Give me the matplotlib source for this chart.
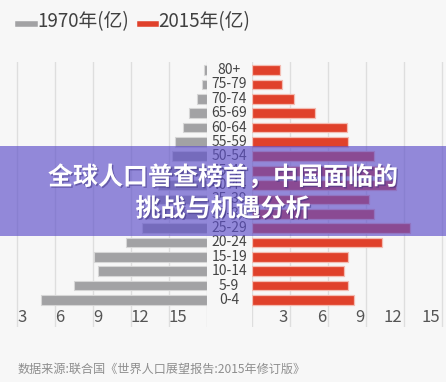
import matplotlib
matplotlib.use('Agg')
import matplotlib.pyplot as plt
from matplotlib.patches import Rectangle
from matplotlib.lines import Line2D
import matplotlib.patheffects as pe

plt.rcParams['font.family'] = ['Noto Sans CJK SC', 'DejaVu Sans']

# data (units of the axis)
ages = ['0-4', '5-9', '10-14', '15-19', '20-24', '25-29', '30-34', '35-39',
        '40-44', '45-49', '50-54', '55-59', '60-64', '65-69', '70-74', '75-79', '80+']
pop_1970 = [13.1, 10.5, 8.6, 8.9, 6.4, 5.1, 4.9, 4.4, 3.9, 3.3, 2.8, 2.5, 1.9, 1.4, 0.8, 0.4, 0.25]
pop_2015 = [8.05, 7.6, 7.25, 7.6, 10.3, 12.5, 9.6, 9.2, 11.4, 10.4, 9.6, 7.6, 7.5, 4.95, 3.3, 2.35, 2.2]
tick_vals = [3, 6, 9, 12, 15]
left_tick_labels = ['15', '12', '9', '6', '3']
right_tick_labels = ['3', '6', '9', '12', '15']
legend_labels = ['1970年(亿)', '2015年(亿)']
banner_lines = '全球人口普查榜首，中国面临的\n挑战与机遇分析'
source_text = '数据来源:联合国《世界人口展望报告:2015年修订版》'

GRAY = '#a2a2a4'
RED = '#e0412b'
BG = '#f7f7f7'
GRID = '#dedede'

W, H = 446, 382
fig = plt.figure(figsize=(W / 100, H / 100), dpi=100, facecolor=BG)


def px_rect(x0, x1, y0, y1):
    return [x0 / W, 1 - y1 / H, (x1 - x0) / W, (y1 - y0) / H]


ylim = (-1.88, 16.56)
ypos = list(range(len(ages)))

ax_l = fig.add_axes(px_rect(0, 207, 62, 327))
ax_r = fig.add_axes(px_rect(252, 446, 62, 327))

ax_l.set_xlim(207 / 12.667, 0)
ax_r.set_xlim(0, 194 / 12.667)

for ax in (ax_l, ax_r):
    ax.set_facecolor(BG)
    ax.set_ylim(*ylim)
    ax.set_xticks([0] + tick_vals)
    ax.set_yticks([])
    ax.tick_params(length=0, labelbottom=False)
    ax.xaxis.grid(True, color=GRID, lw=1)
    ax.set_axisbelow(True)
    for s in ax.spines.values():
        s.set_visible(False)

ax_l.barh(ypos, pop_1970, height=0.68, color=GRAY, edgecolor='#d6d6d6', lw=0.8)
ax_r.barh(ypos, pop_2015, height=0.68, color=RED, edgecolor='#f3bcb2', lw=0.9)

# tick labels drawn inside the grid area
for v, lab in zip(tick_vals, left_tick_labels):
    ax_l.text(v, -1.25, lab, ha='left', va='center', fontsize=12, color='#555555')
for v, lab in zip(tick_vals, right_tick_labels):
    ax_r.text(v - 0.15, -1.25, lab, ha='right', va='center', fontsize=12, color='#555555')

# age labels between the two halves
for y, lab in zip(ypos, ages):
    ax_r.text(-1.8, y, lab, ha='center', va='center', fontsize=10,
              color='#444444', clip_on=False)

# legend
fig.add_artist(Line2D([18 / W, 35 / W], [1 - 24 / H] * 2, color=GRAY, lw=4))
fig.text(37 / W, 1 - 22 / H, legend_labels[0], ha='left', va='center',
         fontsize=13.5, color='#404040')
fig.add_artist(Line2D([140 / W, 156 / W], [1 - 24 / H] * 2, color=RED, lw=4))
fig.text(158 / W, 1 - 22 / H, legend_labels[1], ha='left', va='center',
         fontsize=13.5, color='#404040')

# source
fig.text(18 / W, 1 - 369 / H, source_text, ha='left', va='center',
         fontsize=8.7, color='#8e8e8e')

# purple banner over the chart
fig.add_artist(Rectangle((0, 1 - 236 / H), 1, 90 / H, transform=fig.transFigure,
                         facecolor='#5e4fca', alpha=0.66, lw=0, zorder=5))
fig.text(0.5, 1 - 193 / H, banner_lines, ha='center', va='center', fontsize=18,
         fontweight='bold', color='white', linespacing=1.4, zorder=6,
         path_effects=[pe.withSimplePatchShadow(offset=(1, -1), shadow_rgbFace='#3a2f80', alpha=0.5)])

fig.savefig('out.png', dpi=100, facecolor=BG)
